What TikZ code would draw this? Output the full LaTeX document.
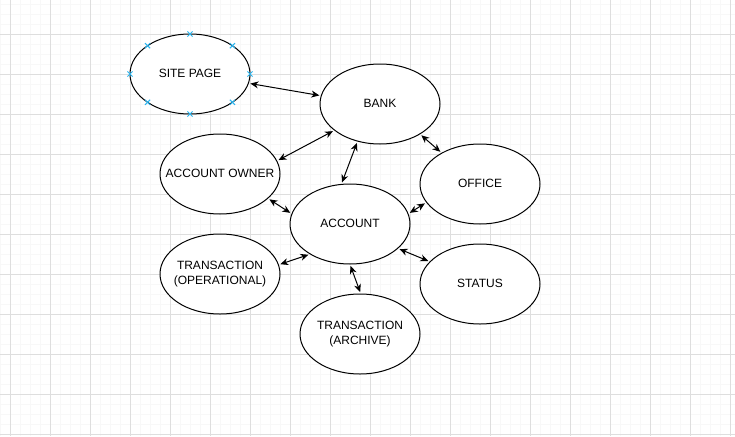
\documentclass[tikz,border=0pt]{standalone}
\usepackage{fontspec}
\setmainfont{Liberation Sans}
\usepackage{xcolor}
\usepackage{tikz}
\usetikzlibrary{arrows.meta, positioning, shapes.geometric}

\definecolor{gridmajor}{RGB}{222,222,222}
\definecolor{gridminor}{RGB}{248,248,248}
\definecolor{handleblue}{RGB}{41,182,242}
\newcommand{\lbl}[1]{\makebox[40pt]{\begin{tabular}{@{}c@{}}#1\end{tabular}}}

\begin{document}
\begin{tikzpicture}[x=1pt, y=-1pt,
    entity/.style={ellipse, draw, fill=white, line width=1pt, minimum width=120pt, minimum height=80pt, inner sep=0pt, font=\fontsize{12}{15}\selectfont},
    link/.style={line width=1pt, shorten <=1.5pt, shorten >=1.5pt, {Stealth[length=8pt,width=7pt]}-{Stealth[length=8pt,width=7pt]}},
    handle/.style={handleblue, line width=1pt}]
    \useasboundingbox (0,0) rectangle (735,436);
    \fill[white] (0,0) rectangle (735,436);

    % Draw grid
    \foreach \x in {0,10,...,730} \draw[gridminor, line width=0.6pt] (\x,0) -- (\x,436);
    \foreach \y in {4,14,...,434} \draw[gridminor, line width=0.6pt] (0,\y) -- (735,\y);
    \foreach \x in {10,50,...,730} \draw[gridmajor, line width=0.8pt] (\x,0) -- (\x,436);
    \foreach \y in {34,74,...,434} \draw[gridmajor, line width=0.8pt] (0,\y) -- (735,\y);

    % Draw entities
    \node[entity] (site) at (190,74) {\lbl{SITE PAGE}};
    \node[entity] (bank) at (380,104) {\lbl{BANK}};
    \node[entity] (owner) at (220,174) {\lbl{ACCOUNT OWNER}};
    \node[entity] (office) at (480,184) {\lbl{OFFICE}};
    \node[entity] (account) at (350,224) {\lbl{ACCOUNT}};
    \node[entity] (transop) at (220,274) {\lbl{TRANSACTION\\(OPERATIONAL)}};
    \node[entity] (status) at (480,284) {\lbl{STATUS}};
    \node[entity] (transarch) at (360,334) {\lbl{TRANSACTION\\(ARCHIVE)}};

    % Selection handles
    \foreach \t in {0,45,...,315}
        \draw[handle] ([shift={({60*cos(\t)},{40*sin(\t)})}]site.center) +(-2.6,-2.6) -- +(2.6,2.6) +(-2.6,2.6) -- +(2.6,-2.6);

    % Draw links
    \draw[link] (site.-9) -- (bank.172);
    \draw[link] (bank.-150) -- (owner.13);
    \draw[link] (bank.-121) -- (account.102);
    \draw[link] (bank.-37) -- (office.141);
    \draw[link] (office.199) -- (account.10);
    \draw[link] (owner.-27) -- (account.170);
    \draw[link] (account.217) -- (transop.9);
    \draw[link] (account.-27) -- (status.156);
    \draw[link] (account.-90) -- (transarch.89);
\end{tikzpicture}
\end{document}
